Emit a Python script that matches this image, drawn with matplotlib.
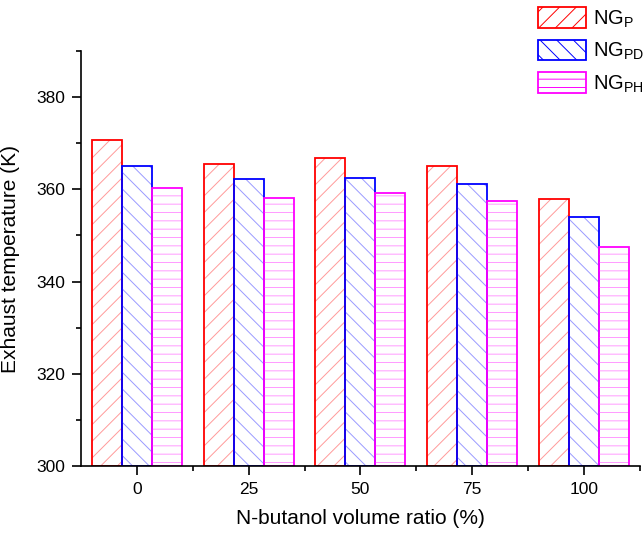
import numpy as np
import matplotlib
matplotlib.use('Agg')
import matplotlib.pyplot as plt
from matplotlib.patches import Patch
from matplotlib.ticker import MultipleLocator

plt.rcParams['font.family'] = ['Liberation Sans', 'DejaVu Sans']
plt.rcParams['hatch.linewidth'] = 0.7

ratios = ['0', '25', '50', '75', '100']
ng_p = [370.7, 365.6, 366.7, 365.1, 358.0]
ng_pd = [365.1, 362.2, 362.4, 361.2, 354.0]
ng_ph = [360.3, 358.1, 359.3, 357.4, 347.5]

series = [
    ('NG$_\\mathregular{P}$', ng_p, 'red', '#ff9a9a', '//'),
    ('NG$_\\mathregular{PD}$', ng_pd, 'blue', '#9a9aff', '\\\\'),
    ('NG$_\\mathregular{PH}$', ng_ph, 'magenta', '#ff9aff', '--'),
]

fig = plt.figure(figsize=(6.43, 5.33), dpi=100)
ax = fig.add_axes([0.126, 0.1257, 0.869, 0.7786])

x = np.arange(len(ratios))
w = 0.268
handles = []
for i, (lab, vals, col, light, hatch) in enumerate(series):
    pos = x + (i - 1) * w
    heights = np.array(vals) - 300
    # hatch in lighter shade, outline in full colour
    ax.bar(pos, heights, w, bottom=300, color='none', edgecolor=light,
           hatch=hatch, linewidth=0)
    ax.bar(pos, heights, w, bottom=300, color='none', edgecolor=col,
           linewidth=1.3)
    handles.append(Patch(facecolor='white', edgecolor=col, hatch=hatch,
                         linewidth=1.3, label=lab))

ax.set_xlim(-0.5, 4.5)
ax.set_ylim(300, 390)
ax.set_xticks(x)
ax.set_xticklabels(ratios)
ax.set_xticks(x + 0.5, minor=True)
ax.yaxis.set_major_locator(MultipleLocator(20))
ax.yaxis.set_minor_locator(MultipleLocator(10))
ax.tick_params(axis='both', which='major', direction='out', length=6.5,
               width=1.2, labelsize=12.5, pad=5)
ax.tick_params(axis='both', which='minor', direction='out', length=3.5,
               width=1.2)
ax.spines['top'].set_visible(False)
ax.spines['right'].set_visible(False)
ax.spines['left'].set_linewidth(1.2)
ax.spines['bottom'].set_linewidth(1.2)

ax.set_xlabel('N-butanol volume ratio (%)', fontsize=15, labelpad=9)
ax.set_ylabel('Exhaust temperature (K)', fontsize=15, labelpad=12)

fig.legend(handles=handles, loc='upper left', bbox_to_anchor=(0.836, 0.986),
           frameon=False, fontsize=14.5, handlelength=2.39, handleheight=1.19,
           labelspacing=0.5, handletextpad=0.35, borderaxespad=0.0,
           borderpad=0.0)

plt.savefig('out.png', dpi=100)
